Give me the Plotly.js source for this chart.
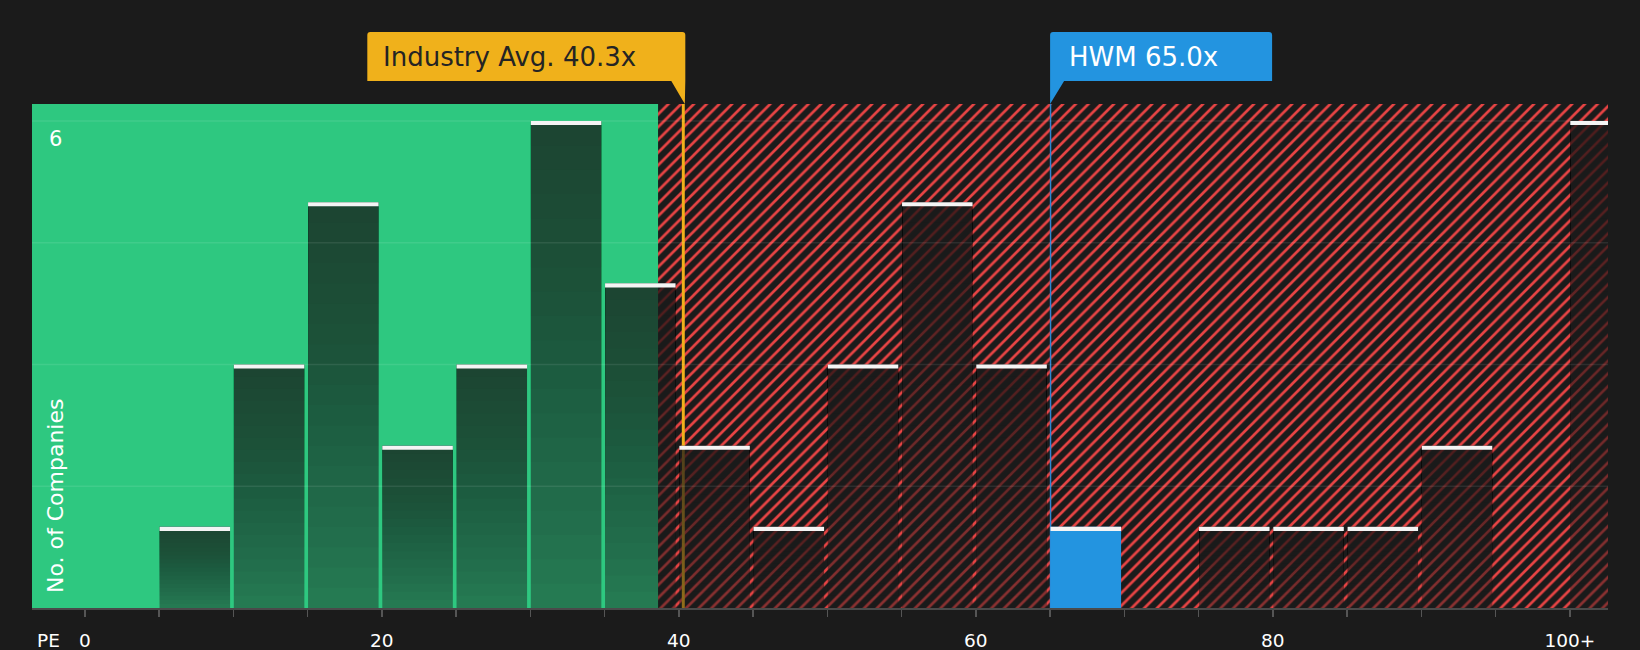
<!DOCTYPE html>
<html>
<head>
<meta charset="utf-8">
<script src="https://cdn.plot.ly/plotly-3.0.1.min.js"></script>
<style>
  html, body { margin: 0; padding: 0; background: #1b1b1b; }
  #chart { width: 1640px; height: 650px; }
</style>
</head>
<body>
<div id="chart"></div>
<script>
// PE ratio histogram, bins of 5x, the last bin holds everything above 100x
const BIN_STARTS = [0, 5, 10, 15, 20, 25, 30, 35, 40, 45, 50, 55, 60, 65, 70, 75, 80, 85, 90, 95, 100];
const COUNTS = [0, 1, 3, 5, 2, 3, 6, 4, 2, 1, 3, 5, 3, 1, 0, 1, 1, 1, 2, 0, 6];
const TICK_VALUES = [0, 20, 40, 60, 80, 100];
const TICK_LABELS = ["0", "20", "40", "60", "80", "100+"];
const Y_TICKS = [1.5, 3, 4.5, 6];
const Y_LABELS = ["", "", "", "6"];

const INDUSTRY_AVG = 40.3;
const COMPANY = "HWM";
const COMPANY_PE = 65.0;
const FAIR_LIMIT = 38.6;   // green zone stops here, hatched zone after
const BIN_WIDTH = 5;

const BG = "#1b1b1b";
const GREEN = "#2ec880";
const RED = "#e84444";
const YELLOW = "#f0b11b";
const BLUE = "#2394e0";
const FONT = "DejaVu Sans";

const X_RANGE = [-3.56, 102.57];
const Y_RANGE = [0, 6.21];

let traces = [];

// hatched "expensive" zone behind the bars
traces.push({
  type: "bar", x: [FAIR_LIMIT], y: [Y_RANGE[1] * 2], width: [BIN_WIDTH * 40], offset: 0,
  marker: {color: RED, line: {width: 0},
    pattern: {shape: "/", fgcolor: RED, bgcolor: BG, size: 9, solidity: 0.3}},
  hoverinfo: "skip"
});

// marker lines sit under the bars, so they are thin bars as well
traces.push({
  type: "bar", x: [INDUSTRY_AVG], y: [Y_RANGE[1] * 2], width: [0.2], offset: -0.1,
  marker: {color: YELLOW, line: {width: 0}}, hoverinfo: "skip"
});
traces.push({
  type: "bar", x: [COMPANY_PE], y: [Y_RANGE[1] * 2], width: [0.1], offset: -0.02,
  marker: {color: "#2f86d2", line: {width: 0}}, hoverinfo: "skip"
});

let hwmIdx = BIN_STARTS.findIndex(b => COMPANY_PE >= b && COMPANY_PE < b + BIN_WIDTH);
let darkCounts = COUNTS.map((c, i) => i === hwmIdx ? 0 : c);

// fake a top-dark gradient by stacking translucent layers
const LAYERS = 20;
for (let k = 0; k < LAYERS; k++) {
  let a = k === 0 ? 0.45 : 0.035;
  traces.push({
    type: "bar", x: BIN_STARTS,
    base: darkCounts.map(c => c * k / LAYERS),
    y: darkCounts.map(c => c * (1 - k / LAYERS)),
    offset: 0.03, width: 4.75,
    marker: {color: "rgba(27,27,27," + a + ")", line: {width: 0}},
    hoverinfo: "skip"
  });
}

traces.push({
  type: "bar", x: [BIN_STARTS[hwmIdx]], y: [COUNTS[hwmIdx]],
  offset: 0.03, width: 4.75,
  marker: {color: BLUE, line: {width: 0}}, hoverinfo: "skip"
});

// white caps on top of every bar
traces.push({
  type: "bar", x: BIN_STARTS,
  base: COUNTS.map(c => c - 0.05),
  y: COUNTS.map(c => c > 0 ? 0.05 : null),
  offset: 0.03, width: 4.75,
  marker: {color: "#f4f4f4", line: {width: 0}}, hoverinfo: "skip"
});

let xTickVals = [];
let xTickText = [];
for (let v = 0; v <= 100; v += BIN_WIDTH) {
  xTickVals.push(v);
  let i = TICK_VALUES.indexOf(v);
  xTickText.push(i >= 0 ? TICK_LABELS[i] : "");
}

let shapes = [];
Y_TICKS.forEach(function(v) {
  shapes.push({type: "line", xref: "paper", x0: 0, x1: 1, yref: "y", y0: v, y1: v,
    layer: "above", line: {color: "rgba(255,255,255,0.09)", width: 1.5}});
});

// callout boxes, drawn in pixels around the marker lines
function boxPath(L, R, B, T, r, tail) {
  return "M" + L + "," + B + " L" + L + "," + (T - r) + " Q" + L + "," + T + " " + (L + r) + "," + T +
    " L" + (R - r) + "," + T + " Q" + R + "," + T + " " + R + "," + (T - r) +
    " L" + R + "," + B + tail + " Z";
}
shapes.push({
  type: "path", layer: "above", xref: "x", xsizemode: "pixel", xanchor: INDUSTRY_AVG,
  yref: "paper", ysizemode: "pixel", yanchor: 1,
  path: boxPath(-316, 2, 23, 72, 3, " L1.5,0 L-12,23"),
  fillcolor: YELLOW, line: {width: 0}
});
shapes.push({
  type: "path", layer: "above", xref: "x", xsizemode: "pixel", xanchor: COMPANY_PE,
  yref: "paper", ysizemode: "pixel", yanchor: 1,
  path: "M0,0 L0,69 Q0,72 3,72 L219,72 Q222,72 222,69 L222,23 L14,23 Z",
  fillcolor: BLUE, line: {width: 0}
});

let annotations = [
  {xref: "x", x: INDUSTRY_AVG, xanchor: "left", xshift: -302, yref: "paper", y: 1, yanchor: "middle",
   yshift: 47, showarrow: false, text: "Industry Avg. " + INDUSTRY_AVG.toFixed(1) + "x",
   font: {family: FONT, size: 26, color: "#242424"}},
  {xref: "x", x: COMPANY_PE, xanchor: "left", xshift: 17, yref: "paper", y: 1, yanchor: "middle",
   yshift: 47, showarrow: false, text: COMPANY + " " + COMPANY_PE.toFixed(1) + "x",
   font: {family: FONT, size: 26, color: "#ffffff"}},
  {xref: "paper", x: 0, xanchor: "left", xshift: 3, yref: "paper", y: 0, yanchor: "middle",
   yshift: -32, showarrow: false, text: "PE", font: {family: FONT, size: 18.5, color: "#ffffff"}},
  {xref: "paper", x: 0, xanchor: "center", xshift: 23, yref: "paper", y: 0, yanchor: "middle",
   yshift: 112, showarrow: false, textangle: -90, text: "No. of Companies",
   font: {family: FONT, size: 22, color: "#ffffff"}}
];

let layout = {
  width: 1640, height: 650,
  margin: {l: 32, r: 32, t: 104, b: 42},
  paper_bgcolor: BG, plot_bgcolor: GREEN,
  barmode: "overlay", showlegend: false,
  font: {family: FONT, color: "#ffffff"},
  xaxis: {
    range: X_RANGE, tickmode: "array", tickvals: xTickVals, ticktext: xTickText,
    ticks: "outside", ticklen: 7, tickwidth: 1.5, tickcolor: "#555555",
    ticklabelstandoff: 8,
    showline: true, linecolor: "#4a4a4a", linewidth: 2,
    showgrid: false, zeroline: false, fixedrange: true,
    tickfont: {family: FONT, size: 18.5, color: "#ffffff"}
  },
  yaxis: {
    range: Y_RANGE, tickmode: "array", tickvals: Y_TICKS, ticktext: Y_LABELS,
    ticklabelposition: "inside bottom", ticklabelstandoff: 14, ticklabelshift: 3,
    ticks: "", showgrid: false, zeroline: false, showline: false, fixedrange: true,
    tickfont: {family: FONT, size: 21, color: "#ffffff"}
  },
  shapes: shapes,
  annotations: annotations
};

Plotly.newPlot("chart", traces, layout, {displayModeBar: false, staticPlot: true});
</script>
</body>
</html>
